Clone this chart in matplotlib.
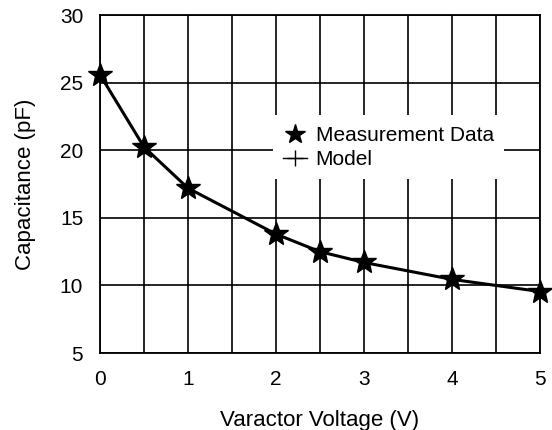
import matplotlib
matplotlib.use("Agg")
import matplotlib.pyplot as plt
from matplotlib.lines import Line2D

plt.rcParams['font.family'] = ['Liberation Sans', 'DejaVu Sans']

voltage = [0, 0.5, 1, 2, 2.5, 3, 4, 5]
meas_cap = [25.6, 20.25, 17.2, 13.8, 12.5, 11.7, 10.45, 9.55]
model_cap = [25.6, 20.25, 17.2, 13.8, 12.5, 11.7, 10.45, 9.55]
xticks = [0, 1, 2, 3, 4, 5]
yticks = [5, 10, 15, 20, 25, 30]

fig = plt.figure(figsize=(5.52, 4.30), dpi=100)
ax = fig.add_axes([0.181, 0.179, 0.797, 0.786])

ax.set_xlim(0, 5)
ax.set_ylim(5, 30)
ax.set_xticks(xticks)
ax.set_yticks(yticks)
ax.set_xticks([0.5, 1.5, 2.5, 3.5, 4.5], minor=True)
ax.grid(True, which='both', color='black', linewidth=1.2)
ax.tick_params(which='both', length=0, labelsize=15, pad=12)
for s in ax.spines.values():
    s.set_linewidth(1.3)

ax.plot(voltage, model_cap, color='black', linewidth=2.2, marker='+', markersize=10, zorder=3)
ax.plot(voltage, meas_cap, linestyle='none', marker='*', markersize=18, color='black', clip_on=False, zorder=4)

ax.set_xlabel('Varactor Voltage (V)', fontsize=16, labelpad=15)
ax.set_ylabel('Capacitance (pF)', fontsize=16, labelpad=17)

handles = [Line2D([], [], linestyle='none', marker='*', markersize=15, color='black'),
           Line2D([], [], color='black', linewidth=1, marker='+', markersize=12)]
leg = ax.legend(handles, ['Measurement Data', 'Model'], loc='upper left',
                bbox_to_anchor=(0.393, 0.703), frameon=True, fontsize=15,
                handlelength=1.15, handletextpad=0.4, labelspacing=0.25, borderpad=0.5,
                borderaxespad=0)
leg.get_frame().set_edgecolor('none')
leg.get_frame().set_facecolor('white')
leg.get_frame().set_alpha(1)
leg.get_frame().set_boxstyle('square', pad=0)

fig.savefig('out.png', dpi=100)
